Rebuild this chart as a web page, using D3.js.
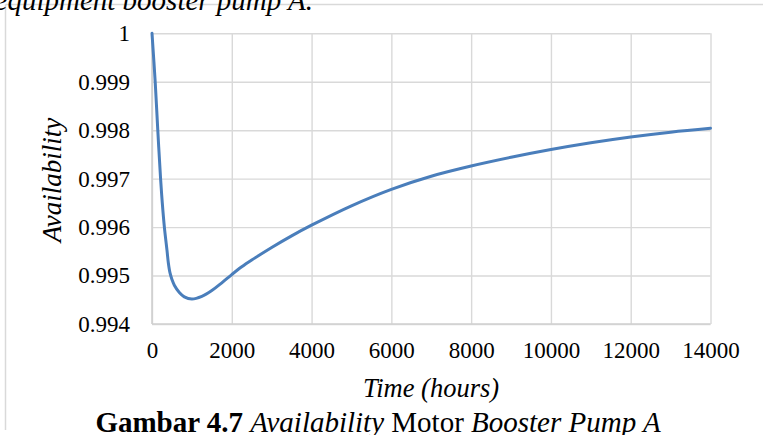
<!DOCTYPE html>
<html>
<head>
<meta charset="utf-8">
<script src="https://cdn.jsdelivr.net/npm/d3@7"></script>
<style>
  html, body { margin: 0; padding: 0; background: #fff; }
  svg { display: block; }
  text { font-family: "Liberation Serif", "Times New Roman", serif; fill: #000; }
</style>
</head>
<body>
<svg id="chart" width="763" height="435"></svg>
<script>
// Availability of the booster pump motor over operating time
const timeHours = [0, 80, 145, 215, 258, 310, 376, 410, 450, 500, 560, 685, 810, 1000, 1250, 1500, 1750,
  2000, 2250, 2500, 3000, 3500, 4000, 5000, 6000, 7000, 8000, 9000, 10000, 11000, 12000, 13000, 14000];
const availability = [1.0, 0.99900, 0.99800, 0.99700, 0.99650, 0.99600, 0.99552, 0.99526, 0.99506,
  0.99492, 0.99480, 0.99465, 0.99456, 0.994515, 0.99457, 0.99469, 0.99485,
  0.99502, 0.99518, 0.99532, 0.99558, 0.99582, 0.99604, 0.99644, 0.99678, 0.99705, 0.99726,
  0.99744, 0.99760, 0.99774, 0.99786, 0.99796, 0.99804];

const xTicks = [0, 2000, 4000, 6000, 8000, 10000, 12000, 14000];
const xTickLabels = ["0", "2000", "4000", "6000", "8000", "10000", "12000", "14000"];
const yTicks = [0.994, 0.995, 0.996, 0.997, 0.998, 0.999, 1.0];
const yTickLabels = ["0.994", "0.995", "0.996", "0.997", "0.998", "0.999", "1"];

const svg = d3.select("#chart");
const gridColor = "#d9d9d9";

const x = d3.scaleLinear().domain([0, 14000]).range([152, 710.5]);
const y = d3.scaleLinear().domain([0.994, 1.0]).range([324, 33.3]);

// outer frame (top and left edges visible)
svg.append("line").attr("x1", 5.5).attr("x2", 763).attr("y1", 4.5).attr("y2", 4.5)
  .attr("stroke", gridColor).attr("stroke-width", 1.5);
svg.append("line").attr("x1", 5.5).attr("x2", 5.5).attr("y1", 4.5).attr("y2", 430)
  .attr("stroke", gridColor).attr("stroke-width", 1.5);

// running text above the figure
svg.append("text")
  .attr("x", 313).attr("y", 9.5)
  .attr("text-anchor", "end")
  .style("font-style", "italic")
  .style("font-size", "29px")
  .text("equipment booster pump A.");

// horizontal gridlines + y labels
const yAxis = d3.axisLeft(y)
  .tickValues(yTicks)
  .tickSize(-(x.range()[1] - x.range()[0]))
  .tickPadding(22)
  .tickFormat((d, i) => yTickLabels[i]);
const gy = svg.append("g").attr("transform", `translate(${x.range()[0]},0)`).call(yAxis);
gy.select(".domain").remove();
gy.selectAll(".tick line").attr("stroke", gridColor).attr("stroke-width", 1.4);
gy.selectAll(".tick text").style("font-size", "23px").attr("fill", "#000");

// vertical gridlines + x labels
const xAxis = d3.axisBottom(x)
  .tickValues(xTicks)
  .tickSize(-(y.range()[0] - y.range()[1]))
  .tickPadding(18)
  .tickFormat((d, i) => xTickLabels[i]);
const gx = svg.append("g").attr("transform", `translate(0,${y.range()[0]})`).call(xAxis);
gx.select(".domain").remove();
gx.selectAll(".tick line").attr("stroke", gridColor).attr("stroke-width", 1.4);
gx.selectAll(".tick text").style("font-size", "23px").attr("fill", "#000");

// axis lines
svg.append("line").attr("x1", x.range()[0]).attr("x2", x.range()[1])
  .attr("y1", y.range()[0]).attr("y2", y.range()[0])
  .attr("stroke", "#d0d0d0").attr("stroke-width", 1.6);
svg.append("line").attr("x1", x.range()[0]).attr("x2", x.range()[0])
  .attr("y1", y.range()[0]).attr("y2", y.range()[1])
  .attr("stroke", "#d0d0d0").attr("stroke-width", 1.6);

// availability curve
const pts = timeHours.map((t, i) => [t, availability[i]]);
const line = d3.line()
  .x(d => x(d[0]))
  .y(d => y(d[1]))
  .curve(d3.curveCatmullRom.alpha(0.5));
svg.append("path")
  .datum(pts)
  .attr("d", line)
  .attr("fill", "none")
  .attr("stroke", "#4a7ebb")
  .attr("stroke-width", 3)
  .attr("stroke-linejoin", "round")
  .attr("stroke-linecap", "round");

// axis titles
svg.append("text")
  .attr("transform", "translate(61,180) rotate(-90)")
  .attr("text-anchor", "middle")
  .style("font-style", "italic")
  .style("font-size", "27px")
  .text("Availability");

svg.append("text")
  .attr("x", 431).attr("y", 397)
  .attr("text-anchor", "middle")
  .style("font-style", "italic")
  .style("font-size", "26.5px")
  .text("Time (hours)");

// figure caption
const cap = svg.append("text")
  .attr("x", 378).attr("y", 432)
  .attr("text-anchor", "middle")
  .style("font-size", "29px");
cap.append("tspan").style("font-weight", "bold").text("Gambar 4.7 ");
cap.append("tspan").style("font-style", "italic").text("Availability");
cap.append("tspan").text(" Motor ");
cap.append("tspan").style("font-style", "italic").text("Booster Pump A");
</script>
</body>
</html>
